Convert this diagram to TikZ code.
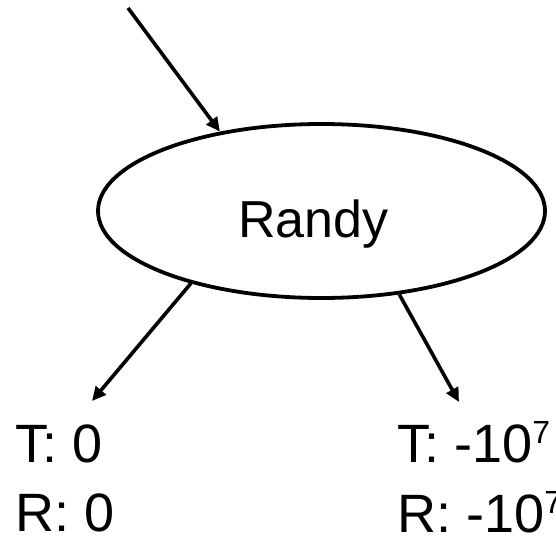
\documentclass[tikz,border=0pt]{standalone}
\usepackage{fontspec}
\setmainfont{Liberation Sans}
\usetikzlibrary{shapes.geometric, arrows.meta, positioning}
\definecolor{ink}{RGB}{0, 0, 0}
\newcommand{\expseven}{\raisebox{19pt}{\fontsize{32}{32}\selectfont 7}}
\tikzset{
    player/.style={ellipse, draw=ink, line width=3.8pt, inner sep=0pt, minimum width=447pt, minimum height=174pt},
    pname/.style={inner sep=0pt, anchor=base, font=\fontsize{52}{60}\selectfont},
    payoff/.style={anchor=base west, inner sep=0pt, font=\fontsize{54}{60}\selectfont},
    arr/.style={-{Triangle[length=14pt, width=13pt]}, line width=3.6pt, ink}
}
\begin{document}
\begin{tikzpicture}[x=1pt, y=-1pt]
        \useasboundingbox (0,0) rectangle (556,535);
        \node[player] (randy) at (321.5,211) {};
        \node[pname] (randytxt) at (313.5,237) {Randy};

        \coordinate (root) at (128,8);
        \coordinate (lend) at (92,401);
        \coordinate (rend) at (459,402);

        \node[payoff] (tl) at (15,462) {T: 0};
        \node[payoff] (rl) at (15,531) {R: 0};
        \node[payoff] (tr) at (397,462) {T: -10\expseven};
        \node[payoff] (rr) at (397,532) {R: -10\expseven};

        \draw[arr] (root) -- (randy.142);
        \draw[arr] (randy.209) -- (lend);
        \draw[arr] (randy.313) -- (rend);
    \end{tikzpicture}
\end{document}
